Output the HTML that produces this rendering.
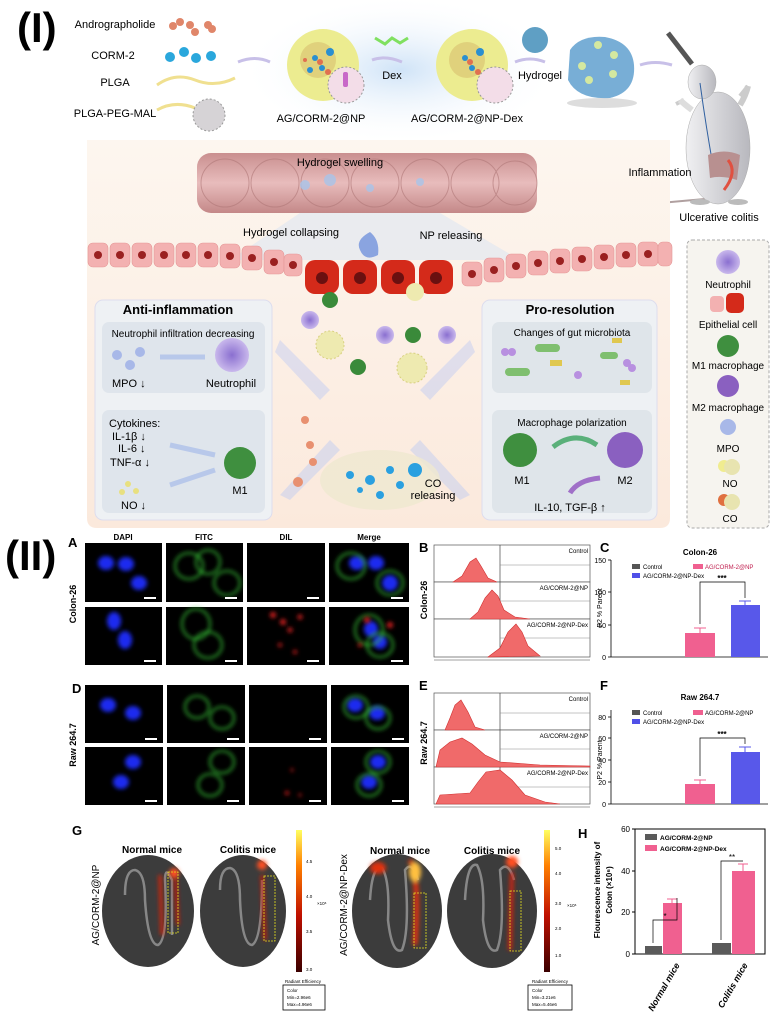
<!DOCTYPE html>
<html><head><meta charset="utf-8"><style>
html,body{margin:0;padding:0;background:#fff}
svg{display:block}
text{font-family:"Liberation Sans",Arial,sans-serif}
.b{font-weight:bold}
</style></head><body>
<svg width="774" height="1018" viewBox="0 0 774 1018" xmlns="http://www.w3.org/2000/svg">
<defs>
<radialGradient id="glow" cx="50%" cy="50%" r="50%"><stop offset="0" stop-color="#cfe3f7"/><stop offset="1" stop-color="#ffffff" stop-opacity="0"/></radialGradient>
<linearGradient id="beige" x1="0" y1="0" x2="0" y2="1"><stop offset="0" stop-color="#fdf6ef"/><stop offset="1" stop-color="#fbe9dc"/></linearGradient>
<linearGradient id="cbar" x1="0" y1="1" x2="0" y2="0"><stop offset="0" stop-color="#3a0000"/><stop offset="0.4" stop-color="#c01000"/><stop offset="0.75" stop-color="#ff8000"/><stop offset="1" stop-color="#ffff60"/></linearGradient>
<linearGradient id="gut" x1="0" y1="0" x2="0" y2="1"><stop offset="0" stop-color="#c98f8f"/><stop offset="0.5" stop-color="#e8bcbc"/><stop offset="1" stop-color="#c48888"/></linearGradient>
<filter id="bl" x="-50%" y="-50%" width="200%" height="200%"><feGaussianBlur stdDeviation="2"/></filter>
<radialGradient id="neu"><stop offset="0" stop-color="#8a6fd0"/><stop offset="1" stop-color="#c9b8ec"/></radialGradient>
<linearGradient id="mouse" x1="0" y1="0" x2="1" y2="0"><stop offset="0" stop-color="#f0f0f2"/><stop offset="1" stop-color="#b8b8be"/></linearGradient>
</defs>

<!-- TOP (I) -->
<text x="17" y="42" font-size="42" class="b">(I)</text>
<ellipse cx="400" cy="70" rx="160" ry="75" fill="url(#glow)"/>
<text x="115" y="28" font-size="11" text-anchor="middle">Andrographolide</text>
<text x="113" y="59" font-size="11" text-anchor="middle">CORM-2</text>
<text x="115" y="86" font-size="11" text-anchor="middle">PLGA</text>
<text x="115" y="117" font-size="11" text-anchor="middle">PLGA-PEG-MAL</text>
<g fill="#e0866a"><circle cx="173" cy="26" r="4"/><circle cx="180" cy="22" r="4"/><circle cx="190" cy="25" r="4"/><circle cx="195" cy="32" r="4"/><circle cx="208" cy="25" r="4"/><circle cx="212" cy="29" r="4"/></g>
<g fill="#2aa7dc"><circle cx="170" cy="57" r="5"/><circle cx="184" cy="52" r="5"/><circle cx="196" cy="58" r="5"/><circle cx="211" cy="56" r="5"/></g>
<path d="M157 85 Q175 72 195 80 T235 78" stroke="#f0e090" stroke-width="3" fill="none"/>
<path d="M157 110 Q175 100 195 108" stroke="#f0e090" stroke-width="3" fill="none"/>
<circle cx="209" cy="115" r="16" fill="#d6d3d6" stroke="#999" stroke-dasharray="2,2"/>
<path d="M238 62 Q255 55 270 62" stroke="#c8c0e8" stroke-width="3" fill="none"/>
<circle cx="323" cy="65" r="36" fill="#ecec90"/>
<circle cx="318" cy="60" r="18" fill="#d9c070" opacity="0.6"/>
<g fill="#2a8fd0"><circle cx="315" cy="58" r="3"/><circle cx="330" cy="52" r="4"/><circle cx="322" cy="68" r="3"/><circle cx="310" cy="70" r="3"/></g>
<g fill="#e07050"><circle cx="320" cy="62" r="3"/><circle cx="305" cy="60" r="2"/><circle cx="328" cy="72" r="3"/></g>
<circle cx="346" cy="85" r="18" fill="#f3dde8" stroke="#999" stroke-dasharray="2,2"/>
<rect x="343" y="72" width="5" height="15" rx="2" fill="#c868c8"/>
<text x="321" y="122" font-size="11" text-anchor="middle">AG/CORM-2@NP</text>
<path d="M372 60 Q385 55 402 62" stroke="#c8c0e8" stroke-width="3" fill="none"/>
<path d="M375 38 L385 44 L392 38 L400 43 L408 38" stroke="#80e060" stroke-width="3" fill="none"/>
<text x="392" y="79" font-size="11" text-anchor="middle">Dex</text>
<circle cx="472" cy="65" r="36" fill="#ecec90"/>
<circle cx="467" cy="60" r="18" fill="#d9c070" opacity="0.6"/>
<g fill="#2a8fd0"><circle cx="465" cy="58" r="3"/><circle cx="480" cy="52" r="4"/><circle cx="472" cy="68" r="3"/></g>
<g fill="#e07050"><circle cx="470" cy="62" r="3"/><circle cx="478" cy="72" r="3"/></g>
<circle cx="495" cy="85" r="18" fill="#f3dde8" stroke="#999" stroke-dasharray="2,2"/>
<text x="467" y="122" font-size="11" text-anchor="middle">AG/CORM-2@NP-Dex</text>
<path d="M515 62 Q530 56 545 62" stroke="#c8c0e8" stroke-width="3" fill="none"/>
<circle cx="535" cy="40" r="13" fill="#5f9fc4"/>
<text x="540" y="79" font-size="11" text-anchor="middle">Hydrogel</text>
<ellipse cx="602" cy="103" rx="35" ry="5" fill="#ddd"/>
<path d="M570 50 Q580 35 605 37 Q632 42 634 65 Q636 92 610 98 Q578 100 568 80 Z" fill="#78aed6"/>
<g fill="#d4e8a0"><circle cx="598" cy="45" r="4"/><circle cx="614" cy="55" r="4"/><circle cx="582" cy="66" r="4"/><circle cx="613" cy="74" r="4"/><circle cx="589" cy="80" r="4"/></g>
<path d="M640 65 Q655 60 672 65" stroke="#c8c0e8" stroke-width="3" fill="none"/>
<!-- mouse -->
<line x1="668" y1="33" x2="692" y2="64" stroke="#555" stroke-width="5"/>
<path d="M640 205 Q670 202 705 199" stroke="#b0a0a0" stroke-width="2" fill="none"/>
<path d="M684 100 L676 104 M748 86 L740 96" stroke="#ccc" stroke-width="4"/>
<ellipse cx="718" cy="148" rx="32" ry="56" fill="url(#mouse)" stroke="#aaa" stroke-width="0.5"/>
<ellipse cx="702" cy="82" rx="14" ry="17" fill="url(#mouse)" stroke="#aaa" stroke-width="0.5"/>
<path d="M692 110 Q684 104 680 100" stroke="#ddd" stroke-width="6" fill="none"/>
<path d="M740 105 Q746 95 748 86" stroke="#ccc" stroke-width="6" fill="none"/>
<path d="M700 83 Q705 120 712 160" stroke="#3060a0" stroke-width="1" fill="none"/>
<path d="M708 155 Q724 148 740 155 L737 180 Q722 175 710 178 Z" fill="#b89090"/>
<path d="M728 160 Q738 172 724 190" stroke="#e05040" stroke-width="3" fill="none"/>
<ellipse cx="700" cy="202" rx="10" ry="3" fill="#bbb"/><ellipse cx="738" cy="202" rx="10" ry="3" fill="#bbb"/>

<!-- beige panel -->
<path d="M87 140 L670 140 L670 518 Q670 528 660 528 L97 528 Q87 528 87 518 Z" fill="url(#beige)"/>
<text x="660" y="176" font-size="11" text-anchor="middle">Inflammation</text>
<text x="719" y="221" font-size="11" text-anchor="middle">Ulcerative colitis</text>
<polygon points="300,213 440,213 520,260 230,260" fill="#d8e4f4" opacity="0.5"/>
<rect x="197" y="153" width="340" height="60" rx="14" fill="url(#gut)"/>
<g fill="none" stroke="#b07878" stroke-width="1" opacity="0.6"><circle cx="225" cy="183" r="24"/><circle cx="275" cy="183" r="24"/><circle cx="325" cy="183" r="24"/><circle cx="375" cy="183" r="24"/><circle cx="425" cy="183" r="24"/><circle cx="475" cy="183" r="24"/><circle cx="515" cy="183" r="22"/></g>
<g fill="#a8c4ea" opacity="0.8"><circle cx="305" cy="185" r="5"/><circle cx="330" cy="180" r="6"/><circle cx="370" cy="188" r="4"/><circle cx="420" cy="182" r="4"/></g>
<text x="340" y="166" font-size="11" text-anchor="middle">Hydrogel swelling</text>
<text x="291" y="236" font-size="11" text-anchor="middle">Hydrogel collapsing</text>
<text x="451" y="239" font-size="11" text-anchor="middle">NP releasing</text>
<g fill="#f3b1b1" stroke="#e59898" stroke-width="0.6">
<rect x="88" y="243" width="20" height="24" rx="5"/><rect x="110" y="243" width="20" height="24" rx="5"/><rect x="132" y="243" width="20" height="24" rx="5"/><rect x="154" y="243" width="20" height="24" rx="5"/><rect x="176" y="243" width="20" height="24" rx="5"/><rect x="198" y="243" width="20" height="24" rx="5"/><rect x="220" y="244" width="20" height="24" rx="5"/><rect x="242" y="246" width="20" height="24" rx="5"/><rect x="264" y="250" width="20" height="24" rx="5"/><rect x="284" y="254" width="18" height="22" rx="5"/>
<rect x="462" y="262" width="20" height="24" rx="5"/><rect x="484" y="258" width="20" height="24" rx="5"/><rect x="506" y="254" width="20" height="24" rx="5"/><rect x="528" y="251" width="20" height="24" rx="5"/><rect x="550" y="249" width="20" height="24" rx="5"/><rect x="572" y="247" width="20" height="24" rx="5"/><rect x="594" y="245" width="20" height="24" rx="5"/><rect x="616" y="243" width="20" height="24" rx="5"/><rect x="638" y="242" width="20" height="24" rx="5"/><rect x="658" y="242" width="14" height="24" rx="5"/></g>
<g fill="#9a2020"><circle cx="98" cy="255" r="4"/><circle cx="120" cy="255" r="4"/><circle cx="142" cy="255" r="4"/><circle cx="164" cy="255" r="4"/><circle cx="186" cy="255" r="4"/><circle cx="208" cy="255" r="4"/><circle cx="230" cy="256" r="4"/><circle cx="252" cy="258" r="4"/><circle cx="274" cy="262" r="4"/><circle cx="293" cy="265" r="4"/>
<circle cx="472" cy="274" r="4"/><circle cx="494" cy="270" r="4"/><circle cx="516" cy="266" r="4"/><circle cx="538" cy="263" r="4"/><circle cx="560" cy="261" r="4"/><circle cx="582" cy="259" r="4"/><circle cx="604" cy="257" r="4"/><circle cx="626" cy="255" r="4"/><circle cx="648" cy="254" r="4"/></g>
<g fill="#d42a1a"><rect x="305" y="260" width="34" height="34" rx="10"/><rect x="343" y="260" width="34" height="34" rx="10"/><rect x="381" y="260" width="34" height="34" rx="10"/><rect x="419" y="260" width="34" height="34" rx="10"/></g>
<g fill="#6a1010"><circle cx="322" cy="278" r="6"/><circle cx="360" cy="278" r="6"/><circle cx="398" cy="278" r="6"/><circle cx="436" cy="278" r="6"/></g>
<path d="M370 232 Q380 240 378 255 Q365 262 360 250 Q355 240 370 232Z" fill="#8aa4e0"/>
<g fill="#c8d0f0" opacity="0.55"><polygon points="280,340 330,390 320,400 275,352"/><polygon points="470,340 420,390 430,400 475,352"/><polygon points="280,495 330,440 340,450 290,500"/><polygon points="470,495 420,440 410,450 460,500"/></g>
<circle cx="310" cy="320" r="9" fill="url(#neu)"/><circle cx="385" cy="335" r="9" fill="url(#neu)"/><circle cx="447" cy="335" r="9" fill="url(#neu)"/>
<circle cx="330" cy="300" r="8" fill="#3a8a3a"/><circle cx="413" cy="335" r="8" fill="#3a8a3a"/><circle cx="358" cy="367" r="8" fill="#3a8a3a"/>
<circle cx="330" cy="345" r="14" fill="#eeeab0" stroke="#d8d080" stroke-dasharray="2,2"/>
<circle cx="412" cy="368" r="15" fill="#eeeab0" stroke="#d8d080" stroke-dasharray="2,2"/>
<circle cx="415" cy="292" r="9" fill="#eeeab0"/>
<ellipse cx="380" cy="480" rx="60" ry="30" fill="#efe8d0" opacity="0.8"/>
<g fill="#2aa0e0"><circle cx="350" cy="475" r="4"/><circle cx="370" cy="480" r="5"/><circle cx="390" cy="470" r="4"/><circle cx="415" cy="470" r="7"/><circle cx="360" cy="490" r="3"/><circle cx="380" cy="495" r="4"/><circle cx="400" cy="485" r="4"/></g>
<g fill="#e89070"><circle cx="305" cy="420" r="4"/><circle cx="310" cy="445" r="4"/><circle cx="313" cy="462" r="4"/><circle cx="298" cy="482" r="5"/></g>
<text x="433" y="487" font-size="11" text-anchor="middle">CO</text>
<text x="433" y="499" font-size="11" text-anchor="middle">releasing</text>
<rect x="95" y="300" width="177" height="220" rx="8" fill="#eef1f4" stroke="#dde" />
<text x="178" y="314" font-size="13" class="b" text-anchor="middle">Anti-inflammation</text>
<rect x="102" y="322" width="163" height="71" rx="7" fill="#dfe5ec"/>
<text x="183" y="337" font-size="10" text-anchor="middle">Neutrophil infiltration decreasing</text>
<circle cx="232" cy="355" r="17" fill="url(#neu)"/>
<g fill="#a8b8e8"><circle cx="117" cy="355" r="5"/><circle cx="140" cy="352" r="5"/><circle cx="130" cy="365" r="5"/></g>
<path d="M205 357 L160 357" stroke="#b8c8ea" stroke-width="5"/>
<text x="112" y="387" font-size="11">MPO ↓</text>
<text x="231" y="387" font-size="11" text-anchor="middle">Neutrophil</text>
<rect x="102" y="410" width="163" height="103" rx="7" fill="#dfe5ec"/>
<text x="109" y="427" font-size="11">Cytokines:</text>
<text x="112" y="440" font-size="11">IL-1β ↓</text>
<text x="118" y="452" font-size="11">IL-6 ↓</text>
<text x="110" y="466" font-size="11">TNF-α ↓</text>
<circle cx="240" cy="463" r="16" fill="#3f8f3f"/>
<text x="240" y="494" font-size="11" text-anchor="middle">M1</text>
<path d="M215 455 L170 445 M215 470 L170 485" stroke="#b8c8ea" stroke-width="5"/>
<g fill="#e8e080"><circle cx="128" cy="484" r="3"/><circle cx="122" cy="492" r="3"/><circle cx="136" cy="491" r="3"/></g>
<text x="121" y="509" font-size="11">NO ↓</text>
<rect x="482" y="300" width="175" height="220" rx="8" fill="#eef1f4" stroke="#dde"/>
<text x="570" y="314" font-size="13" class="b" text-anchor="middle">Pro-resolution</text>
<rect x="492" y="322" width="160" height="71" rx="7" fill="#dfe5ea"/>
<text x="572" y="336" font-size="10" text-anchor="middle">Changes of gut microbiota</text>
<g fill="#7fbf6f"><rect x="535" y="344" width="25" height="8" rx="4"/><rect x="505" y="368" width="25" height="8" rx="4"/><rect x="600" y="352" width="18" height="7" rx="3.5"/></g>
<g fill="#b890e0"><circle cx="505" cy="352" r="4"/><circle cx="512" cy="352" r="4"/><circle cx="627" cy="363" r="4"/><circle cx="632" cy="368" r="4"/><circle cx="578" cy="375" r="4"/></g>
<g fill="#e0c850"><rect x="550" y="360" width="12" height="6"/><rect x="612" y="338" width="10" height="5"/><rect x="620" y="380" width="10" height="5"/></g>
<rect x="492" y="410" width="160" height="103" rx="7" fill="#dfe5ea"/>
<text x="572" y="426" font-size="10" text-anchor="middle">Macrophage polarization</text>
<circle cx="520" cy="450" r="17" fill="#3f8f3f"/>
<circle cx="625" cy="450" r="18" fill="#8a60c0"/>
<path d="M553 447 Q575 430 597 445" stroke="#5ab07a" stroke-width="5" fill="none"/>
<path d="M600 478 Q578 480 570 493" stroke="#a070c8" stroke-width="5" fill="none"/>
<text x="522" y="484" font-size="11" text-anchor="middle">M1</text>
<text x="625" y="484" font-size="11" text-anchor="middle">M2</text>
<text x="570" y="511" font-size="11" text-anchor="middle">IL-10, TGF-β  ↑</text>
<rect x="687" y="240" width="82" height="288" rx="5" fill="#f6f4ef" stroke="#aaa" stroke-dasharray="3,2"/>
<circle cx="728" cy="262" r="12" fill="url(#neu)"/>
<text x="728" y="288" font-size="10" text-anchor="middle">Neutrophil</text>
<rect x="710" y="296" width="14" height="16" rx="4" fill="#f3b1b1"/><rect x="726" y="293" width="18" height="20" rx="5" fill="#d42a1a"/>
<text x="728" y="328" font-size="10" text-anchor="middle">Epithelial cell</text>
<circle cx="728" cy="346" r="11" fill="#3f8f3f"/>
<text x="728" y="369" font-size="10" text-anchor="middle">M1 macrophage</text>
<circle cx="728" cy="386" r="11" fill="#8a60c0"/>
<text x="728" y="411" font-size="10" text-anchor="middle">M2 macrophage</text>
<circle cx="728" cy="427" r="8" fill="#a8b8e8"/>
<text x="728" y="452" font-size="10" text-anchor="middle">MPO</text>
<circle cx="724" cy="466" r="6" fill="#f0ec90"/><circle cx="732" cy="467" r="8" fill="#e8e4b0"/>
<text x="730" y="487" font-size="10" text-anchor="middle">NO</text>
<circle cx="724" cy="500" r="6" fill="#e07040"/><circle cx="732" cy="502" r="8" fill="#e8e4b0"/>
<text x="730" y="522" font-size="10" text-anchor="middle">CO</text>

<!-- (II) -->
<text x="5" y="570" font-size="42" class="b">(II)</text>
<text x="68" y="547" font-size="13" class="b">A</text>
<text x="72" y="693" font-size="13" class="b">D</text>
<g font-size="8" class="b" text-anchor="middle"><text x="123" y="540">DAPI</text><text x="204" y="540">FITC</text><text x="286" y="540">DIL</text><text x="369" y="540">Merge</text></g>
<text transform="translate(76,604) rotate(-90)" font-size="9" class="b" text-anchor="middle">Colon-26</text>
<text transform="translate(76,745) rotate(-90)" font-size="9" class="b" text-anchor="middle">Raw 264.7</text>
<g fill="#000">
<rect x="85" y="543" width="77" height="59"/><rect x="166" y="543" width="77" height="59"/><rect x="247" y="543" width="78" height="59"/><rect x="329" y="543" width="80" height="59"/>
<rect x="85" y="607" width="77" height="58"/><rect x="166" y="607" width="77" height="58"/><rect x="247" y="607" width="78" height="58"/><rect x="329" y="607" width="80" height="58"/>
<rect x="85" y="685" width="78" height="58"/><rect x="167" y="685" width="78" height="58"/><rect x="249" y="685" width="78" height="58"/><rect x="331" y="685" width="78" height="58"/>
<rect x="85" y="747" width="78" height="58"/><rect x="167" y="747" width="78" height="58"/><rect x="249" y="747" width="78" height="58"/><rect x="331" y="747" width="78" height="58"/></g>
<g fill="#1a2cf0" filter="url(#bl)">
<ellipse cx="106" cy="563" rx="8" ry="7"/><ellipse cx="126" cy="564" rx="8" ry="7"/><ellipse cx="139" cy="583" rx="8" ry="7"/>
<ellipse cx="114" cy="621" rx="7" ry="9"/><ellipse cx="125" cy="640" rx="7" ry="9"/>
<ellipse cx="108" cy="705" rx="8" ry="7"/><ellipse cx="133" cy="713" rx="8" ry="7"/>
<ellipse cx="133" cy="762" rx="8" ry="7"/><ellipse cx="121" cy="782" rx="8" ry="7"/>
<ellipse cx="357" cy="563" rx="8" ry="7"/><ellipse cx="376" cy="563" rx="8" ry="7"/><ellipse cx="390" cy="583" rx="8" ry="8"/>
<ellipse cx="371" cy="629" rx="7" ry="8"/><ellipse cx="380" cy="642" rx="7" ry="7"/>
<ellipse cx="355" cy="705" rx="8" ry="7"/><ellipse cx="377" cy="713" rx="8" ry="7"/>
<ellipse cx="378" cy="762" rx="8" ry="7"/><ellipse cx="369" cy="782" rx="8" ry="7"/></g>
<g fill="none" stroke="#36c036" stroke-width="1.8" filter="url(#bl)">
<ellipse cx="189" cy="566" rx="14" ry="13"/><ellipse cx="208" cy="562" rx="12" ry="12"/><ellipse cx="227" cy="583" rx="13" ry="12"/>
<ellipse cx="196" cy="624" rx="14" ry="15"/><ellipse cx="208" cy="645" rx="14" ry="13"/>
<ellipse cx="197" cy="707" rx="12" ry="11"/><ellipse cx="222" cy="718" rx="12" ry="11"/>
<ellipse cx="222" cy="762" rx="12" ry="11"/><ellipse cx="210" cy="785" rx="12" ry="11"/>
<ellipse cx="351" cy="566" rx="14" ry="13"/><ellipse cx="390" cy="583" rx="13" ry="12"/>
<ellipse cx="369" cy="630" rx="14" ry="15"/><ellipse cx="380" cy="645" rx="13" ry="12"/>
<ellipse cx="356" cy="707" rx="12" ry="11"/><ellipse cx="378" cy="718" rx="12" ry="11"/>
<ellipse cx="378" cy="762" rx="12" ry="11"/><ellipse cx="369" cy="785" rx="12" ry="11"/></g>
<g fill="#e02020" filter="url(#bl)"><circle cx="273" cy="615" r="3"/><circle cx="283" cy="622" r="3"/><circle cx="290" cy="630" r="2.5"/><circle cx="300" cy="617" r="2.5"/><circle cx="280" cy="645" r="2"/><circle cx="295" cy="652" r="2"/><circle cx="367" cy="620" r="3"/><circle cx="390" cy="625" r="3"/><circle cx="360" cy="645" r="2"/><circle cx="292" cy="770" r="1.5"/><circle cx="287" cy="793" r="2"/><circle cx="300" cy="795" r="1.5"/></g>
<g fill="#fff"><rect x="144" y="597" width="12" height="2"/><rect x="225" y="597" width="12" height="2"/><rect x="307" y="597" width="12" height="2"/><rect x="391" y="597" width="12" height="2"/><rect x="144" y="660" width="12" height="2"/><rect x="225" y="660" width="12" height="2"/><rect x="307" y="660" width="12" height="2"/><rect x="391" y="660" width="12" height="2"/><rect x="145" y="738" width="12" height="2"/><rect x="227" y="738" width="12" height="2"/><rect x="309" y="738" width="12" height="2"/><rect x="392" y="738" width="12" height="2"/><rect x="145" y="800" width="12" height="2"/><rect x="227" y="800" width="12" height="2"/><rect x="309" y="800" width="12" height="2"/><rect x="392" y="800" width="12" height="2"/></g>

<!-- B -->
<text x="419" y="552" font-size="13" class="b">B</text>
<text transform="translate(427,600) rotate(-90)" font-size="9" class="b" text-anchor="middle">Colon-26</text>
<g stroke="#555" stroke-width="0.7" fill="#fff"><rect x="434" y="545" width="156" height="37"/><rect x="434" y="582" width="156" height="37"/><rect x="434" y="619" width="156" height="38"/></g>
<line x1="500" y1="545" x2="500" y2="657" stroke="#444" stroke-width="0.7"/>
<g stroke="#888" stroke-width="0.5"><line x1="500" y1="565" x2="590" y2="565"/><line x1="500" y1="601" x2="590" y2="601"/><line x1="500" y1="638" x2="590" y2="638"/></g>
<g fill="#f06a6a" stroke="#d03030" stroke-width="0.6">
<path d="M453 582 L462 576 L470 562 L476 558 L481 566 L488 578 L497 582 Z"/>
<path d="M470 619 L478 612 L485 598 L492 590 L498 596 L504 610 L515 617 L530 619 Z"/>
<path d="M488 657 L500 648 L508 632 L516 624 L522 632 L528 646 L540 656 Z"/></g>
<g font-size="6" text-anchor="end"><text x="588" y="553">Control</text><text x="588" y="590">AG/CORM-2@NP</text><text x="588" y="627">AG/CORM-2@NP-Dex</text></g>
<line x1="434" y1="660" x2="590" y2="660" stroke="#444" stroke-width="0.5"/>
<!-- E -->
<text x="419" y="690" font-size="13" class="b">E</text>
<text transform="translate(427,743) rotate(-90)" font-size="9" class="b" text-anchor="middle">Raw 264.7</text>
<g stroke="#555" stroke-width="0.7" fill="#fff"><rect x="434" y="693" width="156" height="37"/><rect x="434" y="730" width="156" height="37"/><rect x="434" y="767" width="156" height="37"/></g>
<line x1="500" y1="693" x2="500" y2="804" stroke="#444" stroke-width="0.7"/>
<g stroke="#888" stroke-width="0.5"><line x1="500" y1="713" x2="590" y2="713"/><line x1="500" y1="749" x2="590" y2="749"/><line x1="500" y1="787" x2="590" y2="787"/></g>
<g fill="#f06a6a" stroke="#d03030" stroke-width="0.6">
<path d="M445 730 L450 718 L455 705 L461 700 L468 712 L475 727 L485 730 Z"/>
<path d="M436 767 L440 750 L450 742 L462 738 L472 744 L485 755 L500 762 L540 765 L590 766 L590 767 Z"/>
<path d="M436 804 L440 795 L470 793 L478 782 L486 772 L500 770 L512 780 L525 795 L545 802 L560 804 Z"/></g>
<g font-size="6" text-anchor="end"><text x="588" y="701">Control</text><text x="588" y="738">AG/CORM-2@NP</text><text x="588" y="775">AG/CORM-2@NP-Dex</text></g>
<line x1="434" y1="807" x2="590" y2="807" stroke="#444" stroke-width="0.5"/>

<!-- C -->
<text x="600" y="552" font-size="13" class="b">C</text>
<text x="700" y="555" font-size="8" class="b" text-anchor="middle">Colon-26</text>
<g stroke="#000" stroke-width="0.8"><line x1="611" y1="560" x2="611" y2="657"/><line x1="611" y1="657" x2="768" y2="657"/>
<line x1="608" y1="560" x2="611" y2="560"/><line x1="608" y1="592" x2="611" y2="592"/><line x1="608" y1="625" x2="611" y2="625"/><line x1="608" y1="657" x2="611" y2="657"/></g>
<g font-size="7" text-anchor="end"><text x="606" y="563">150</text><text x="606" y="595">100</text><text x="606" y="628">50</text><text x="606" y="660">0</text></g>
<text transform="translate(602,608) rotate(-90)" font-size="7" text-anchor="middle">P2 % Parent</text>
<rect x="632" y="564" width="8" height="5" fill="#555"/><text x="643" y="569" font-size="6">Control</text>
<rect x="693" y="564" width="10" height="5" fill="#f06090"/><text x="705" y="569" font-size="6" fill="#c02050">AG/CORM-2@NP</text>
<rect x="632" y="573" width="8" height="5" fill="#5050e8"/><text x="643" y="578" font-size="6">AG/CORM-2@NP-Dex</text>
<rect x="685" y="633" width="30" height="24" fill="#f06090"/><rect x="731" y="605" width="29" height="52" fill="#5858ea"/>
<g stroke="#f06090"><line x1="700" y1="633" x2="700" y2="628"/><line x1="694" y1="628" x2="706" y2="628"/></g>
<g stroke="#5858ea"><line x1="745" y1="605" x2="745" y2="601"/><line x1="739" y1="601" x2="751" y2="601"/></g>
<path d="M700 624 L700 582 L745 582 L745 598" fill="none" stroke="#000" stroke-width="0.7"/>
<text x="722" y="581" font-size="8" class="b" text-anchor="middle">***</text>

<!-- F -->
<text x="600" y="690" font-size="13" class="b">F</text>
<text x="700" y="700" font-size="8" class="b" text-anchor="middle">Raw 264.7</text>
<g stroke="#000" stroke-width="0.8"><line x1="611" y1="710" x2="611" y2="804"/><line x1="611" y1="804" x2="768" y2="804"/>
<line x1="608" y1="717" x2="611" y2="717"/><line x1="608" y1="738" x2="611" y2="738"/><line x1="608" y1="760" x2="611" y2="760"/><line x1="608" y1="782" x2="611" y2="782"/><line x1="608" y1="804" x2="611" y2="804"/></g>
<g font-size="7" text-anchor="end"><text x="606" y="720">80</text><text x="606" y="741">60</text><text x="606" y="763">40</text><text x="606" y="785">20</text><text x="606" y="807">0</text></g>
<text transform="translate(602,760) rotate(-90)" font-size="7" text-anchor="middle">P2 % Parent</text>
<rect x="632" y="710" width="8" height="5" fill="#555"/><text x="643" y="715" font-size="6">Control</text>
<rect x="693" y="710" width="10" height="5" fill="#f06090"/><text x="705" y="715" font-size="6">AG/CORM-2@NP</text>
<rect x="632" y="719" width="8" height="5" fill="#5050e8"/><text x="643" y="724" font-size="6">AG/CORM-2@NP-Dex</text>
<rect x="685" y="784" width="30" height="20" fill="#f06090"/><rect x="731" y="752" width="29" height="52" fill="#5858ea"/>
<g stroke="#f06090"><line x1="700" y1="784" x2="700" y2="780"/><line x1="694" y1="780" x2="706" y2="780"/></g>
<g stroke="#5858ea"><line x1="745" y1="752" x2="745" y2="747"/><line x1="739" y1="747" x2="751" y2="747"/></g>
<path d="M700 776 L700 738 L745 738 L745 744" fill="none" stroke="#000" stroke-width="0.7"/>
<text x="722" y="737" font-size="8" class="b" text-anchor="middle">***</text>

<!-- G -->
<text x="72" y="835" font-size="13" class="b">G</text>
<text transform="translate(99,905) rotate(-90)" font-size="10" text-anchor="middle">AG/CORM-2@NP</text>
<text transform="translate(347,905) rotate(-90)" font-size="10" text-anchor="middle">AG/CORM-2@NP-Dex</text>
<g font-size="10" class="b" text-anchor="middle"><text x="152" y="853">Normal mice</text><text x="248" y="853">Colitis mice</text><text x="400" y="854">Normal mice</text><text x="492" y="854">Colitis mice</text></g>
<g fill="#3c3c3c"><ellipse cx="148" cy="911" rx="46" ry="56"/><ellipse cx="243" cy="911" rx="43" ry="56"/><ellipse cx="397" cy="911" rx="45" ry="57"/><ellipse cx="492" cy="911" rx="45" ry="57"/></g>
<g fill="none" stroke="#9a9a9a" stroke-width="2.5" opacity="0.8">
<path d="M125 895 Q125 870 135 870 Q145 872 145 900 Q148 945 158 945 Q168 940 165 880 Q165 865 172 880 L172 935"/>
<path d="M220 890 Q220 868 230 868 Q240 870 240 900 Q242 945 252 945 Q262 940 262 880"/>
<path d="M370 900 Q372 865 382 868 Q390 880 388 920 Q392 955 402 950 Q410 930 405 870 Q412 860 418 880"/>
<path d="M465 900 Q467 862 477 865 Q485 880 483 920 Q487 955 497 950 Q505 930 500 870 Q508 860 514 880"/></g>
<g filter="url(#bl)"><path d="M160 875 L162 935" stroke="#e02010" stroke-width="3"/><path d="M175 873 L178 925" stroke="#d01a0a" stroke-width="3"/><circle cx="174" cy="873" r="5" fill="#ff5020"/><path d="M262 875 L265 940" stroke="#d01a0a" stroke-width="3"/><circle cx="262" cy="865" r="5" fill="#ff5020"/>
<ellipse cx="378" cy="868" rx="8" ry="6" fill="#e03010"/><path d="M410 860 Q420 880 415 945" stroke="#e03010" stroke-width="5" fill="none"/><ellipse cx="415" cy="872" rx="6" ry="10" fill="#ffc040"/><path d="M512 872 L510 950" stroke="#d02010" stroke-width="4"/><circle cx="512" cy="862" r="6" fill="#ff5020"/></g>
<g fill="none" stroke="#e8e020" stroke-width="0.8" stroke-dasharray="2,1"><rect x="168" y="872" width="10" height="61"/><rect x="264" y="876" width="11" height="65"/><rect x="414" y="893" width="12" height="55"/><rect x="510" y="891" width="11" height="60"/></g>
<rect x="296" y="830" width="6" height="142" fill="url(#cbar)"/>
<rect x="544" y="830" width="6" height="142" fill="url(#cbar)"/>
<g font-size="4.5"><text x="306" y="863">4.5</text><text x="306" y="898">4.0</text><text x="306" y="933">3.5</text><text x="306" y="971">3.0</text><text x="317" y="905">×10⁶</text>
<text x="555" y="850">5.0</text><text x="555" y="875">4.0</text><text x="555" y="905">3.0</text><text x="555" y="930">2.0</text><text x="555" y="957">1.0</text><text x="567" y="907">×10⁶</text></g>
<text x="303" y="983" font-size="4.5" text-anchor="middle">Radiant Efficiency</text>
<rect x="283" y="985" width="42" height="25" fill="#fff" stroke="#000" stroke-width="0.8"/>
<g font-size="4.5"><text x="287" y="992">Color</text><text x="287" y="999">Min=2.96e6</text><text x="287" y="1006">Max=4.96e6</text></g>
<text x="550" y="983" font-size="4.5" text-anchor="middle">Radiant Efficiency</text>
<rect x="528" y="985" width="44" height="25" fill="#fff" stroke="#000" stroke-width="0.8"/>
<g font-size="4.5"><text x="532" y="992">Color</text><text x="532" y="999">Min=3.21e6</text><text x="532" y="1006">Max=5.46e6</text></g>

<!-- H -->
<text x="578" y="838" font-size="13" class="b">H</text>
<rect x="635" y="829" width="130" height="125" fill="none" stroke="#000" stroke-width="1"/>
<g stroke="#000"><line x1="632" y1="829" x2="635" y2="829"/><line x1="632" y1="871" x2="635" y2="871"/><line x1="632" y1="912" x2="635" y2="912"/><line x1="632" y1="954" x2="635" y2="954"/></g>
<g font-size="8" text-anchor="end"><text x="630" y="832">60</text><text x="630" y="874">40</text><text x="630" y="915">20</text><text x="630" y="957">0</text></g>
<text transform="translate(600,890) rotate(-90)" font-size="8" class="b" text-anchor="middle">Flourescence intensity of</text>
<text transform="translate(612,890) rotate(-90)" font-size="8" class="b" text-anchor="middle">Colon (×10⁶)</text>
<rect x="645" y="834" width="12" height="6" fill="#5a5a5a"/><text x="660" y="840" font-size="6.5" class="b">AG/CORM-2@NP</text>
<rect x="645" y="845" width="12" height="6" fill="#f06090"/><text x="660" y="851" font-size="6.5" class="b">AG/CORM-2@NP-Dex</text>
<rect x="645" y="946" width="17" height="8" fill="#5a5a5a"/><rect x="663" y="903" width="19" height="51" fill="#f06090"/>
<rect x="712" y="943" width="19" height="11" fill="#5a5a5a"/><rect x="732" y="871" width="23" height="83" fill="#f06090"/>
<g stroke="#f06090"><line x1="672" y1="903" x2="672" y2="899"/><line x1="667" y1="899" x2="677" y2="899"/><line x1="743" y1="871" x2="743" y2="864"/><line x1="738" y1="864" x2="748" y2="864"/></g>
<path d="M653 943 L653 920 L677 920 L677 898" fill="none" stroke="#000" stroke-width="0.7"/>
<text x="665" y="919" font-size="8" text-anchor="middle">*</text>
<path d="M721 940 L721 861 L743 861" fill="none" stroke="#000" stroke-width="0.7"/>
<text x="732" y="860" font-size="8" text-anchor="middle">**</text>
<text transform="translate(680,965) rotate(-60)" font-size="9" class="b" font-style="italic" text-anchor="end">Normal mice</text>
<text transform="translate(748,965) rotate(-60)" font-size="9" class="b" font-style="italic" text-anchor="end">Colitis mice</text>
</svg>
</body></html>
